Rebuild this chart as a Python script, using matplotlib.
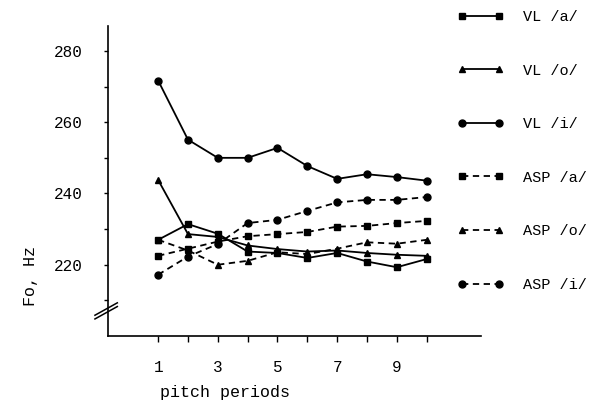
import matplotlib
matplotlib.use("Agg")
import matplotlib.pyplot as plt

plt.rcParams['font.family'] = ['Liberation Mono', 'DejaVu Sans Mono']

# pitch period index
periods = [1, 2, 3, 4, 5, 6, 7, 8, 9, 10]

# Fo (Hz) per pitch period
vl_a = [227.0, 231.4, 228.7, 223.7, 223.3, 221.9, 223.3, 220.9, 219.3, 221.6]
vl_o = [243.8, 228.6, 227.8, 225.4, 224.4, 223.7, 224.0, 223.3, 222.8, 222.5]
vl_i = [271.7, 255.1, 250.0, 250.0, 252.8, 247.7, 244.1, 245.4, 244.6, 243.6]
asp_a = [222.5, 224.5, 226.5, 228.0, 228.6, 229.2, 230.7, 230.9, 231.7, 232.3]
asp_o = [227.0, 224.0, 220.0, 221.1, 223.5, 223.0, 224.5, 226.3, 225.9, 227.0]
asp_i = [217.2, 222.3, 225.8, 231.7, 232.6, 235.1, 237.5, 238.2, 238.2, 239.0]

series = [
    ("VL /a/", vl_a, "s", "-"),
    ("VL /o/", vl_o, "^", "-"),
    ("VL /i/", vl_i, "o", "-"),
    ("ASP /a/", asp_a, "s", "--"),
    ("ASP /o/", asp_o, "^", "--"),
    ("ASP /i/", asp_i, "o", "--"),
]

y_major = [220, 240, 260, 280]
y_minor = [210, 230, 250, 270]
x_ticks = [1, 2, 3, 4, 5, 6, 7, 8, 9, 10]
x_labels = ["1", "", "3", "", "5", "", "7", "", "9", ""]

fig = plt.figure(figsize=(5.92, 4.03), dpi=100)
ax = fig.add_axes([108 / 592, 1 - 336 / 403, (481 - 108) / 592, (336 - 26) / 403])

for label, vals, mk, ls in series:
    ax.plot(periods, vals, color="black", linestyle=ls, linewidth=1.3,
            marker=mk, markersize=5, label=label,
            dashes=(3.5, 2.5) if ls == "--" else (None, None))

ax.set_xlim(-0.68, 11.82)
ax.set_ylim(200, 287)

ax.spines["top"].set_visible(False)
ax.spines["right"].set_visible(False)
ax.spines["left"].set_linewidth(1.2)
ax.spines["bottom"].set_linewidth(1.2)

ax.set_yticks(y_major)
ax.set_yticks(y_minor, minor=True)
ax.set_xticks(x_ticks)
ax.set_xticklabels(x_labels)
ax.tick_params(axis="y", which="both", direction="out", length=3, width=1,
               labelsize=11.5, pad=15)
ax.tick_params(axis="x", direction="out", length=4, width=1, labelsize=11.5, pad=13)

# axis break mark on the y axis
for dy in (0.0, 0.012):
    ax.plot([-0.035, 0.025], [0.055 + dy, 0.095 + dy], transform=ax.transAxes,
            color="black", linewidth=1.1, clip_on=False)

fig.text(30 / 592, 1 - 276 / 403, "Fo, Hz", rotation=90, ha="center",
         va="center", fontsize=12)
fig.text(225 / 592, 1 - 392 / 403, "pitch periods", ha="center",
         va="center", fontsize=12)

leg = ax.legend(loc="upper left", bbox_to_anchor=(457 / 592, 1 - 10 / 403),
                bbox_transform=fig.transFigure, frameon=False, numpoints=2,
                fontsize=11, handlelength=3.07, handletextpad=1.25,
                labelspacing=2.59, borderaxespad=0, borderpad=0)

fig.savefig("out.png", dpi=100)
